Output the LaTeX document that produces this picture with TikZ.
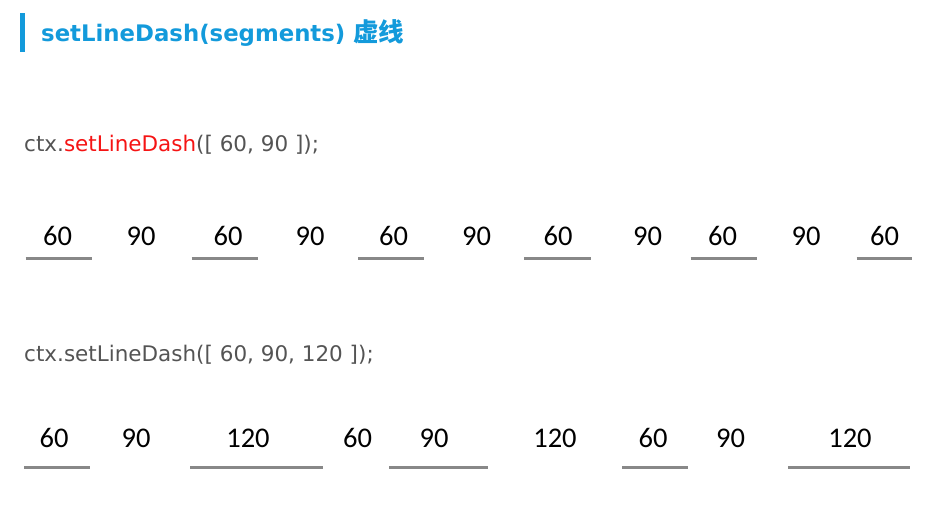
\documentclass[tikz,border=0pt]{standalone}
\usepackage{fontspec}
\setmainfont{DejaVu Sans}
\newfontfamily\titlefont{DejaVu Sans}
\newfontfamily\codefont{DejaVu Sans}
\newfontfamily\numfont{Carlito}
\newfontfamily\cjkfont{Noto Sans CJK SC}
\definecolor{titleblue}{RGB}{19,154,219}
\definecolor{codegray}{RGB}{84,84,84}
\definecolor{codered}{RGB}{245,20,20}
\definecolor{seggray}{RGB}{136,136,136}
\tikzset{
  numlabel/.style={anchor=base,inner sep=0pt,font=\numfont\fontsize{28.5}{32}\selectfont,text=black},
  codeline/.style={anchor=base west,inner sep=0pt,font=\codefont\fontsize{21.5}{26}\selectfont,text=codegray},
  seg/.style={draw=seggray,line width=2.5pt}
}
\begin{document}
\begin{tikzpicture}[x=1pt,y=-1pt]
\useasboundingbox (0,0) rectangle (944,506);
% title
\fill[titleblue] (20,13) rectangle (25,52);
\node[anchor=base west,inner sep=0pt,text=titleblue] (title) at (41,41.5)
  {\titlefont\bfseries\fontsize{22.8}{27}\selectfont setLineDash(segments) {\cjkfont\bfseries\fontsize{25.5}{28}\selectfont 虚线}};
% code lines
\node[codeline] (code1) at (24,151.5) {ctx.\textcolor{codered}{setLineDash}([ 60, 90 ]);};
\node[codeline] (code2) at (24,361.5) {ctx.setLineDash([ 60, 90, 120 ]);};
% row 1 labels
\foreach \x/\t [count=\i] in {57.5/60,141/90,228/60,310/90,393.5/60,476.5/90,558/60,647.5/90,722.5/60,806/90,884.5/60}
  \node[numlabel] (ra\i) at (\x,245) {\t};
% row 1 segments
\foreach \a/\b in {25.7/91.7,191.7/258,358/424,524.3/590.7,690.7/757,856.7/912.3}
  \draw[seg] (\a,258.5) -- (\b,258.5);
% row 2 labels
\foreach \x/\t [count=\i] in {54/60,136/90,248/120,357.5/60,434/90,555/120,653/60,730.5/90,850/120}
  \node[numlabel] (rb\i) at (\x,447) {\t};
% row 2 segments
\foreach \a/\b in {24/90,190/322.7,389.3/488.3,622.3/688.3,788.3/910}
  \draw[seg] (\a,467.3) -- (\b,467.3);
\end{tikzpicture}
\end{document}
